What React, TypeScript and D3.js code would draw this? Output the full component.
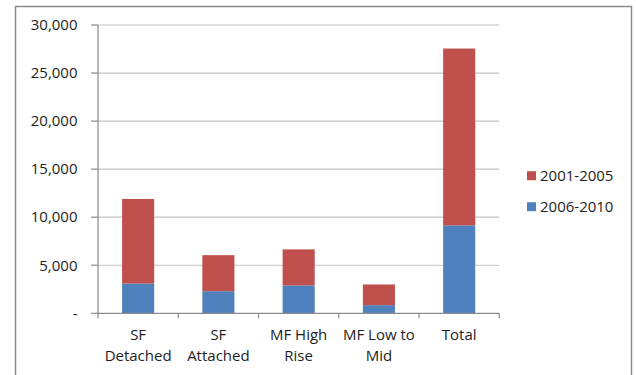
import React from "react";
import * as d3 from "d3";

// Housing type categories and stacked values per period
const categories = ["SF Detached", "SF Attached", "MF High Rise", "MF Low to Mid", "Total"];
const categoryLines = [["SF", "Detached"], ["SF", "Attached"], ["MF High", "Rise"], ["MF Low to", "Mid"], ["Total"]];
const values2006to2010 = [3100, 2300, 2900, 850, 9150];
const values2001to2005 = [8800, 3750, 3750, 2150, 18400];
const yTicks = [0, 5000, 10000, 15000, 20000, 25000, 30000];

const series = [
  { name: "2006-2010", values: values2006to2010, color: "#4F81BD" },
  { name: "2001-2005", values: values2001to2005, color: "#C0504D" },
];
const legendOrder = ["2001-2005", "2006-2010"];

const W = 636;
const H = 375;
const FONT = "'Open Sans', sans-serif";
const TEXT = "#1e1e1e";
const FS = 15;

export default function App() {
  const x = d3
    .scaleBand<string>()
    .domain(categories)
    .range([98, 499.3])
    .paddingInner(0.6)
    .paddingOuter(0.3);
  const y = d3.scaleLinear().domain([0, 30000]).range([313.3, 25]);
  const step = x.step();
  const x0 = 98;
  const fmt = d3.format(",");

  const stacked = d3
    .stack<number>()
    .keys(series.map((s) => s.name))
    .value((i, key) => series.find((s) => s.name === key)!.values[i])(
    categories.map((_, i) => i)
  );

  return (
    <svg width={W} height={H} style={{ position: "absolute", left: 0, top: 0 }}>
      <rect x={0} y={0} width={W} height={H} fill="#fff" />
      {/* chart frame */}
      <path d={`M15.5,${H + 2}V6.5H631.5V${H + 2}`} fill="none" stroke="#8a8a8a" strokeWidth={1.5} />

      {/* gridlines */}
      {yTicks.slice(1).map((t) => (
        <line key={t} x1={x0} x2={499.3} y1={y(t)} y2={y(t)} stroke="#c4c4c4" strokeWidth={1.2} />
      ))}

      {/* bars */}
      {stacked.map((layer, li) =>
        layer.map((d, i) => (
          <rect
            key={`${li}-${i}`}
            x={x(categories[i])}
            width={x.bandwidth()}
            y={y(d[1])}
            height={y(d[0]) - y(d[1])}
            fill={series[li].color}
          />
        ))
      )}

      {/* y axis */}
      <line x1={x0} x2={x0} y1={y(30000)} y2={y(0)} stroke="#8a8a8a" strokeWidth={1.2} />
      {yTicks.map((t) => (
        <g key={t}>
          <line x1={x0 - 7} x2={x0} y1={y(t)} y2={y(t)} stroke="#8a8a8a" strokeWidth={1.2} />
          <text
            x={77.5}
            y={y(t)}
            dy="0.35em"
            textAnchor="end"
            fontFamily={FONT}
            fontSize={FS}
            fill={TEXT}
          >
            {t === 0 ? "-" : fmt(t)}
          </text>
        </g>
      ))}

      {/* x axis */}
      <line x1={x0} x2={499.3} y1={y(0)} y2={y(0)} stroke="#8a8a8a" strokeWidth={1.2} />
      {d3.range(categories.length + 1).map((i) => (
        <line
          key={i}
          x1={x0 + i * step}
          x2={x0 + i * step}
          y1={y(0)}
          y2={y(0) + 5}
          stroke="#8a8a8a"
          strokeWidth={1.2}
        />
      ))}
      {categories.map((c, i) => (
        <text
          key={c}
          x={(x(c) ?? 0) + x.bandwidth() / 2}
          y={335}
          textAnchor="middle"
          fontFamily={FONT}
          fontSize={FS}
          fill={TEXT}
        >
          {categoryLines[i].map((line, li) => (
            <tspan key={li} x={(x(c) ?? 0) + x.bandwidth() / 2} dy={li === 0 ? "0.35em" : 21}>
              {line}
            </tspan>
          ))}
        </text>
      ))}

      {/* legend */}
      {legendOrder.map((name, i) => {
        const s = series.find((d) => d.name === name)!;
        const cy = 175.7 + i * 31;
        return (
          <g key={name}>
            <rect x={527} y={cy - 4.5} width={9} height={9} fill={s.color} />
            <text x={540} y={cy} dy="0.35em" fontFamily={FONT} fontSize={FS} fill={TEXT}>
              {name}
            </text>
          </g>
        );
      })}
    </svg>
  );
}
